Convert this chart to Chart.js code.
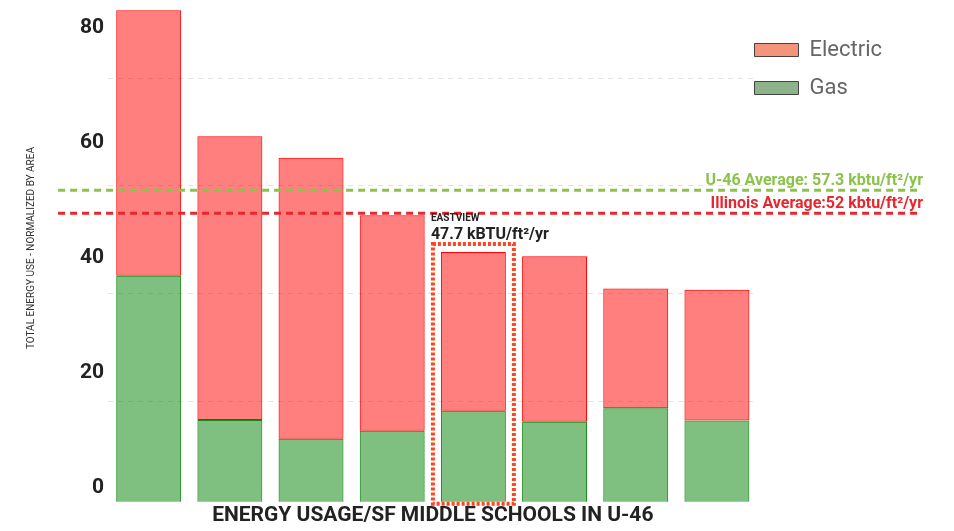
<!DOCTYPE html>
<html><head><meta charset="utf-8">
<script src="https://cdn.jsdelivr.net/npm/chart.js@4"></script>
<style>html,body{margin:0;padding:0;background:#fff;}#wrap{width:954px;height:531px;position:relative;}</style>
</head><body><div id="wrap"><canvas id="c" width="954" height="531"></canvas></div>
<script>
const categories = ['School 1', 'School 2', 'School 3', 'School 4', 'Eastview', 'School 6', 'School 7', 'School 8'];
const gasValues = [43.3, 16.5, 13.0, 14.5, 18.2, 16.2, 18.7, 16.4];
const electricValues = [49.3, 52.7, 52.2, 40.0, 29.5, 30.7, 22.2, 24.3];
const axisTickValues = [0, 20, 40, 60, 80];
const gridValues = [20, 40, 60, 80];
const averageLabels = ['U-46 Average: 57.3 kbtu/ft²/yr', 'Illinois Average:52 kbtu/ft²/yr'];
const averageLinePositions = [59.15, 54.9];
const highlightIndex = 4;
const highlightLines = ['EASTVIEW', '47.7 kBTU/ft²/yr'];

const averageColors = ['#8BC34A', '#E8262E'];
Chart.defaults.font.family = 'Roboto';

const overlayPlugin = {
  id: 'overlay',
  afterLayout(chart) {
    const L = chart.legend;
    const pad = L.options.labels.padding;
    const newLeft = chart.chartArea.right - 3 - pad;
    const w = L.width;
    L.left = newLeft; L.right = newLeft + w;
    L.top += 7; L.bottom += 7;
  },
  afterDatasetsDraw(chart) {
    const {ctx, chartArea} = chart;
    const y = chart.scales.y;
    averageLinePositions.forEach((v, i) => {
      const py = y.getPixelForValue(v);
      ctx.save();
      ctx.setLineDash([7, 5]);
      ctx.lineWidth = 3;
      ctx.strokeStyle = averageColors[i];
      ctx.beginPath();
      ctx.moveTo(chartArea.left - 50, py);
      ctx.lineTo(chart.width - 32, py);
      ctx.stroke();
      ctx.setLineDash([]);
      ctx.font = 'bold 16px Roboto';
      ctx.fillStyle = averageColors[i];
      ctx.textAlign = 'right';
      ctx.textBaseline = 'alphabetic';
      ctx.fillText(averageLabels[i], chart.width - 31, py - 5);
      ctx.restore();
    });
    const el = chart.getDatasetMeta(1).data[highlightIndex];
    const m = 8;
    const left = el.x - el.width / 2 - m;
    const right = el.x + el.width / 2 + m;
    const top = el.y - m;
    const bottom = chartArea.bottom + 2;
    ctx.save();
    ctx.setLineDash([3, 2]);
    ctx.lineWidth = 4;
    ctx.strokeStyle = '#FF4422';
    ctx.strokeRect(left, top, right - left, bottom - top);
    ctx.setLineDash([]);
    ctx.fillStyle = '#222';
    ctx.textAlign = 'left';
    ctx.textBaseline = 'middle';
    ctx.font = 'bold 10px Roboto';
    ctx.fillText(highlightLines[0], left - 2, top - 25);
    ctx.font = 'bold 16px Roboto';
    ctx.fillText(highlightLines[1], left - 2, top - 9);
    ctx.restore();
  }
};

const barClip = {left: false, top: false, right: false, bottom: 0};

new Chart(document.getElementById('c'), {
  type: 'bar',
  data: {
    labels: categories,
    datasets: [
      {label: 'Gas', data: gasValues, yAxisID: 'y', xAxisID: 'x', backgroundColor: 'rgba(0,128,0,0.5)', borderColor: '#138A13', borderWidth: 1, borderSkipped: false, clip: barClip, categoryPercentage: 0.8, barPercentage: 1},
      {label: 'Electric', data: electricValues, yAxisID: 'y', xAxisID: 'x', backgroundColor: 'rgba(255,0,0,0.5)', borderColor: '#FF0000', borderWidth: 1, borderSkipped: false, clip: barClip, categoryPercentage: 0.8, barPercentage: 1}
    ]
  },
  options: {
    responsive: false,
    animation: false,
    devicePixelRatio: 1,
    layout: {padding: {left: 25, right: 50, top: 16, bottom: 0}},
    scales: {
      x: {
        stacked: true,
        grid: {display: false, drawTicks: false},
        border: {display: false},
        ticks: {display: false},
        title: {display: true, text: 'ENERGY USAGE/SF MIDDLE SCHOOLS IN U-46', color: '#222', font: {size: 21, weight: 'bold'}, padding: {top: 1, bottom: 3}}
      },
      yl: {
        position: 'left',
        min: -3.297, max: 81.04,
        grid: {display: false, drawTicks: false},
        border: {display: false},
        afterBuildTicks: s => { s.ticks = axisTickValues.map(v => ({value: v})); },
        ticks: {padding: 4, labelOffset: 5, color: '#222', font: {size: 21, weight: 'bold'}, callback: v => String(v)},
        title: {display: true, text: '         TOTAL ENERGY USE - NORMALIZED BY AREA', color: '#333', font: {size: 10}, padding: {top: 0, bottom: 39}}
      },
      y: {
        stacked: true,
        beginAtZero: false,
        position: 'left',
        min: 1.316, max: 91.4,
        grid: {color: '#e2e2e2', lineWidth: 1, drawTicks: false},
        border: {display: false, dash: [5, 5]},
        afterBuildTicks: s => { s.ticks = gridValues.map(v => ({value: v})); },
        afterFit: s => { s.width = 0; },
        ticks: {display: false}
      }
    },
    plugins: {
      tooltip: {enabled: false},
      legend: {
        position: 'right',
        align: 'start',
        labels: {
          boxWidth: 44, boxHeight: 13, padding: 16, color: '#666',
          font: {size: 22, weight: '400'},
          generateLabels: chart => [
            {text: 'Electric', fillStyle: '#F4947A', strokeStyle: '#444', lineWidth: 1, datasetIndex: 1, fontColor: '#666'},
            {text: 'Gas', fillStyle: '#8DB38B', strokeStyle: '#444', lineWidth: 1, datasetIndex: 0, fontColor: '#666'}
          ]
        }
      }
    }
  },
  plugins: [overlayPlugin]
});
</script></body></html>
